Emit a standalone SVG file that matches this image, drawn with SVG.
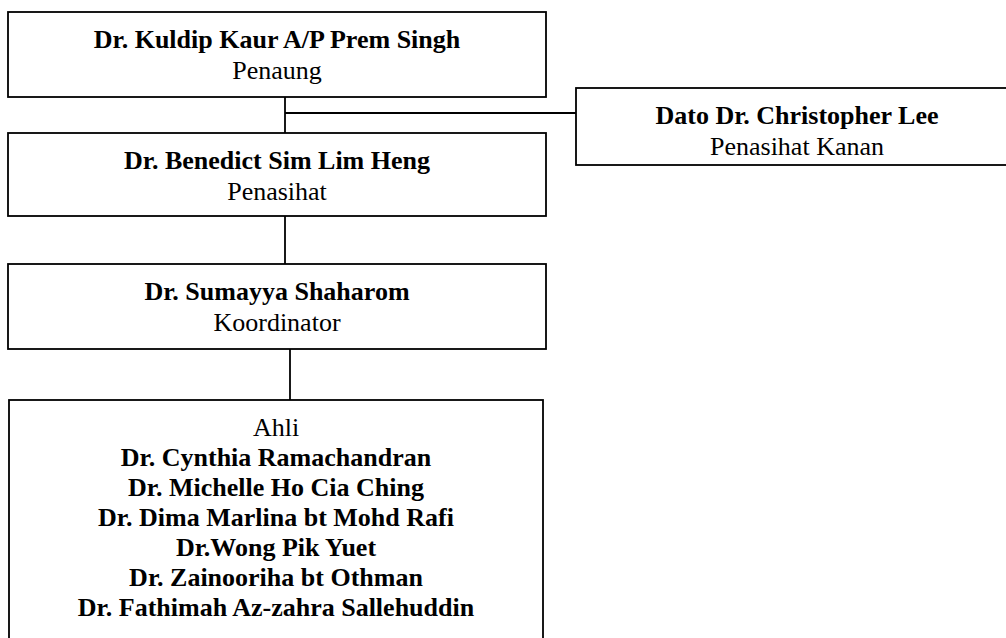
<svg xmlns="http://www.w3.org/2000/svg" width="1006" height="638" viewBox="0 0 1006 638">
<style>
.box{fill:#fff;stroke:#000;stroke-width:1.8}
.ln{stroke:#000;stroke-width:1.8;fill:none}
text{font-family:"Liberation Serif","Times New Roman",serif;font-size:26px;text-anchor:middle;fill:#000}
.b{font-weight:bold}
</style>
<rect width="1006" height="638" fill="#fff"/>
<g id="connectors">
<line class="ln" x1="285" y1="97" x2="285" y2="133"/>
<line class="ln" x1="285" y1="113" x2="576" y2="113"/>
<line class="ln" x1="285" y1="216" x2="285" y2="264"/>
<line class="ln" x1="290" y1="349" x2="290" y2="400"/>
</g>
<g id="penaung">
<rect class="box" x="8" y="12" width="538" height="85"/>
<text class="b" x="277" y="48">Dr. Kuldip Kaur A/P Prem Singh</text>
<text x="277" y="79">Penaung</text>
</g>
<g id="penasihat-kanan">
<rect class="box" x="576" y="88" width="445" height="77"/>
<text class="b" x="797" y="124">Dato Dr. Christopher Lee</text>
<text x="797" y="155">Penasihat Kanan</text>
</g>
<g id="penasihat">
<rect class="box" x="8" y="133" width="538" height="83"/>
<text class="b" x="277" y="169">Dr. Benedict Sim Lim Heng</text>
<text x="277" y="200">Penasihat</text>
</g>
<g id="koordinator">
<rect class="box" x="8" y="264" width="538" height="85"/>
<text class="b" x="277" y="300">Dr. Sumayya Shaharom</text>
<text x="277" y="331">Koordinator</text>
</g>
<g id="ahli">
<rect class="box" x="9" y="400" width="534" height="260"/>
<text x="276" y="436">Ahli</text>
<text class="b" x="276" y="466">Dr. Cynthia Ramachandran</text>
<text class="b" x="276" y="496">Dr. Michelle Ho Cia Ching</text>
<text class="b" x="276" y="526">Dr. Dima Marlina bt Mohd Rafi</text>
<text class="b" x="276" y="556">Dr.Wong Pik Yuet</text>
<text class="b" x="276" y="586">Dr. Zainooriha bt Othman</text>
<text class="b" x="276" y="616">Dr. Fathimah Az-zahra Sallehuddin</text>
</g>
</svg>
